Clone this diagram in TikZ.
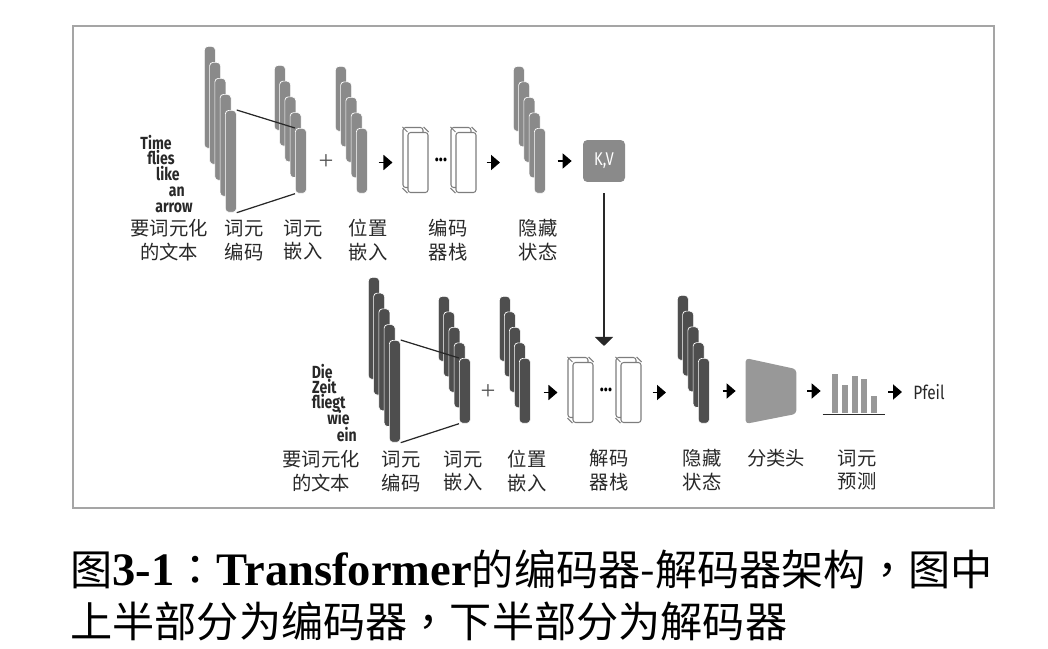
\documentclass[tikz,border=0pt]{standalone}
\usepackage{fontspec}
\setmainfont{Noto Sans CJK SC}
\newfontfamily\tcfont{Noto Sans CJK TC}
\newfontfamily\condsans[FakeStretch=0.8]{Fira Sans}
\newfontfamily\capserif{Liberation Serif}
\usetikzlibrary{arrows.meta,calc}
\definecolor{encgray}{RGB}{138,138,138}
\definecolor{decgray}{RGB}{78,78,78}
\definecolor{headgray}{RGB}{152,152,152}
\definecolor{blkgray}{RGB}{125,125,125}
\definecolor{framegray}{RGB}{165,165,165}
\definecolor{textdark}{RGB}{40,40,40}

\begin{document}
\begin{tikzpicture}[x=0.02cm, y=-0.02cm,
    bar/.style={rectangle, rounded corners=2pt, fill=#1, draw=white, line width=0.4pt, minimum width=0.22cm, inner sep=0pt, anchor=north west},
    tall/.style={minimum height=2.04cm},
    short/.style={minimum height=1.3cm},
    blk/.style={rectangle, draw=blkgray, fill=white, rounded corners=1.5pt, minimum width=0.4cm, minimum height=1.2cm, inner sep=0pt, line width=0.6pt},
    word/.style={font=\condsans\bfseries\fontsize{10}{12}\selectfont, text=textdark, inner sep=0pt, anchor=base east},
    caption/.style={font=\fontsize{11}{13.6}\selectfont, text=textdark, align=center, inner sep=0pt},
    link/.style={draw=textdark, line width=0.7pt},
    fwd/.style={-{Triangle[length=0.18cm,width=0.3cm]}, line width=1pt},
    down/.style={-{Triangle[length=0.18cm,width=0.36cm]}, line width=0.9pt, draw=textdark, fill=textdark},
    histbar/.style={rectangle, fill=headgray, minimum width=0.12cm, inner sep=0pt, anchor=south},
    dots/.style={font=\condsans\bfseries\fontsize{12}{12}\selectfont, inner sep=0pt},
    plus/.style={font=\capserif\fontsize{15}{15}\selectfont, text=textdark!80}
  ]
    \useasboundingbox (0,0) rectangle (1048,649);
    \draw[framegray, line width=0.9pt] (73,26) rectangle (994,508);

    % Encoder side
    \foreach \i in {0,...,4} \node[bar=encgray, tall] (e1-\i) at ({204+5.25*\i},{46+16*\i}) {};
    \foreach \i in {0,...,4} \node[bar=encgray, short] (e2-\i) at ({274+5.25*\i},{65+15.75*\i}) {};
    \foreach \i in {0,...,4} \node[bar=encgray, short] (e3-\i) at ({335+5.25*\i},{66+15.5*\i}) {};
    \foreach \i in {0,...,4} \node[bar=encgray, short] (e4-\i) at ({513+5.25*\i},{66+15.5*\i}) {};
    \draw[link] (e1-4.north east) -- (e2-4.north west);
    \draw[link] (e1-4.south east) -- (e2-4.south west);

    \node[word] (ew1) at (172,149) {Time};
    \node[word] (ew2) at (175,164) {flies};
    \node[word] (ew3) at (180,180) {like};
    \node[word] (ew4) at (185,196) {an};
    \node[word] (ew5) at (193,212) {arrow};

    \node[plus] (eplus) at (326,162) {+};

    \foreach \b/\x in {eb1/418, eb2/466} {
      \node[blk] (\b-back) at ({\x-5},157.5) {};
      \node[blk] (\b) at (\x,162.5) {};
      \draw[blkgray, line width=0.6pt] (\b-back.north west) -- (\b.north west)
        (\b-back.north east) -- (\b.north east) (\b-back.south west) -- (\b.south west);
    }
    \node[dots] (edots) at (441,160) {...};

    \node[rectangle, rounded corners=2.5pt, fill=encgray, minimum size=0.84cm, inner sep=0pt,
      text=white, font=\condsans\fontsize{10.5}{12}\selectfont] (kv) at (604,161) {K,V};

    \draw[fwd] ([xshift=0.22cm]e3-4.east |- eb1.west) -- ([xshift=-0.3cm]eb1.west);
    \draw[fwd] ([xshift=0.2cm]eb2.east) -- ([xshift=-0.26cm]e4-0.west |- eb2.east);
    \draw[fwd] ([xshift=0.24cm]e4-4.east |- kv.west) -- ([xshift=-0.22cm]kv.west);

    \node[caption] (el1) at (169,240) {要词元化\\的文本};
    \node[caption] (el2) at (244,240) {词元\\编码};
    \node[caption] (el3) at (303,240) {词元\\嵌入};
    \node[caption] (el4) at (368,240) {位置\\嵌入};
    \node[caption] (el5) at (448,240) {编码\\器栈};
    \node[caption] (el6) at (538,240) {隐藏\\状态};

    % Decoder side
    \foreach \i in {0,...,4} \node[bar=decgray, tall] (d1-\i) at ({368+5.25*\i},{277+15.75*\i}) {};
    \foreach \i in {0,...,4} \node[bar=decgray, short] (d2-\i) at ({438+5.25*\i},{296+15.5*\i}) {};
    \foreach \i in {0,...,4} \node[bar=decgray, short] (d3-\i) at ({499+5*\i},{296+15.5*\i}) {};
    \foreach \i in {0,...,4} \node[bar=decgray, short] (d4-\i) at ({677+5.25*\i},{295+15.75*\i}) {};
    \draw[link] (d1-4.north east) -- (d2-4.north west);
    \draw[link] (d1-4.south east) -- (d2-4.south west);

    \node[word] (dw1) at (333,378) {Die};
    \node[word] (dw2) at (337,393) {Zeit};
    \node[word] (dw3) at (346,408) {fliegt};
    \node[word] (dw4) at (350,424) {wie};
    \node[word] (dw5) at (357,441) {ein};

    \node[plus] (dplus) at (488,392) {+};

    \foreach \b/\x in {db1/583, db2/631} {
      \node[blk] (\b-back) at ({\x-5},387.5) {};
      \node[blk] (\b) at (\x,392.5) {};
      \draw[blkgray, line width=0.6pt] (\b-back.north west) -- (\b.north west)
        (\b-back.north east) -- (\b.north east) (\b-back.south west) -- (\b.south west);
    }
    \node[dots] (ddots) at (606,390) {...};

    \node[minimum width=1cm, minimum height=1.3cm, inner sep=0pt] (head) at (771,391) {};
    \fill[headgray, rounded corners=2pt] (head.north west) -- ([yshift=-0.22cm]head.north east)
      -- ([yshift=0.2cm]head.south east) -- (head.south west) -- cycle;

    \node[minimum width=1.24cm, minimum height=0.84cm, inner sep=0pt] (pred) at (854,393) {};
    \foreach \x/\h [count=\k] in {835/0.78, 845/0.56, 854.5/0.74, 864/0.68, 873.5/0.34}
      \node[histbar, minimum height=\h cm] (hb\k) at (\x,413) {};
    \draw[link] (pred.south west) -- (pred.south east);

    \node[font=\condsans\fontsize{11}{12}\selectfont, text=textdark, inner sep=0pt, anchor=west] (pfeil) at (913,392) {Pfeil};

    \draw[fwd] ([xshift=0.26cm]d3-4.east |- db1.west) -- ([xshift=-0.3cm]db1.west);
    \draw[fwd] ([xshift=0.22cm]db2.east) -- ([xshift=-0.22cm]d4-0.west |- db2.east);
    \draw[fwd] ([xshift=0.26cm]d4-4.east |- head.west) -- ([xshift=-0.2cm]head.west);
    \draw[fwd] ([xshift=0.22cm]head.east) -- ([xshift=-0.04cm]pred.west |- head.east);
    \draw[fwd] ([xshift=0.06cm]pred.east |- pfeil.west) -- ([xshift=-0.22cm]pfeil.west);

    % Cross attention
    \draw[down] ([yshift=-0.22cm]kv.south) -- ([yshift=0.22cm]kv.south |- db1-back.north);

    \node[caption] (dl1) at (321,471) {要词元化\\的文本};
    \node[caption] (dl2) at (401,471) {词元\\编码};
    \node[caption] (dl3) at (463,471) {词元\\嵌入};
    \node[caption] (dl4) at (527,471) {位置\\嵌入};
    \node[caption] (dl5) at (609,470) {解码\\器栈};
    \node[caption] (dl6) at (702,470) {隐藏\\状态};
    \node[caption] (dl7) at (776,458) {分类头};
    \node[caption] (dl8) at (857,470) {词元\\预测};

    % Figure caption
    \node[font=\fontsize{24}{29}\selectfont, inner sep=0pt, anchor=base west] (cap1) at (70,585)
      {图{\capserif\bfseries\fontsize{26.5}{29}\selectfont 3-1}{\tcfont ：}{\capserif\bfseries\fontsize{26.5}{29}\selectfont Transformer}的编码器-解码器架构{\tcfont ，}图中};
    \node[font=\fontsize{24}{29}\selectfont, inner sep=0pt, anchor=base west] (cap2) at (70,637)
      {上半部分为编码器{\tcfont ，}下半部分为解码器};
  \end{tikzpicture}
\end{document}
